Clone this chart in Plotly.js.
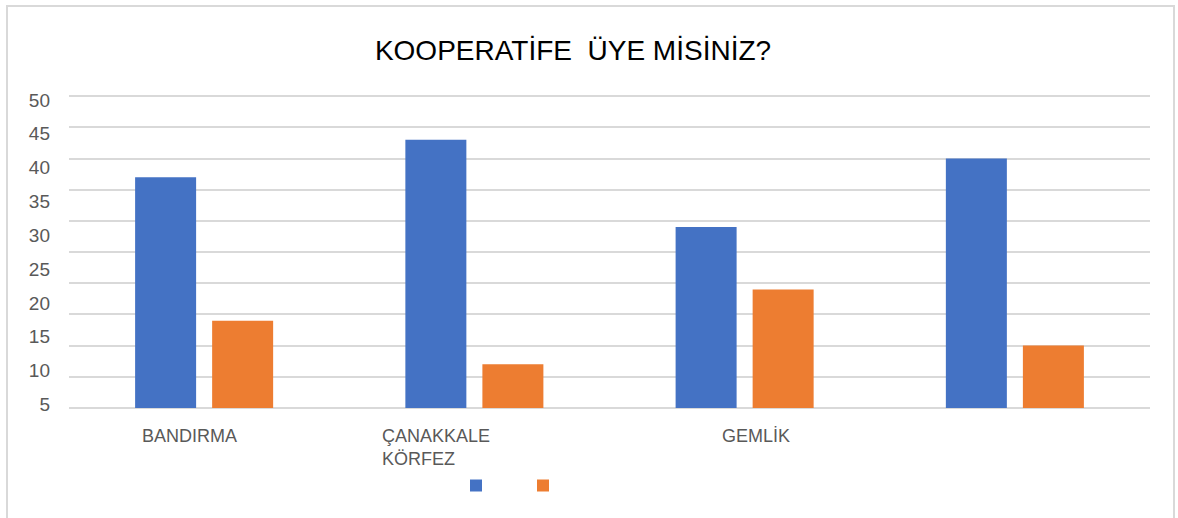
<!DOCTYPE html>
<html>
<head>
<meta charset="utf-8">
<script src="https://cdn.plot.ly/plotly-3.0.1.min.js"></script>
<style>
  html, body { margin: 0; padding: 0; background: #fff; }
  #chart { width: 1178px; height: 518px; }
  #frame { position: absolute; left: 6px; top: 5px; width: 1169px; height: 520px;
           border: 2px solid #d9d9d9; pointer-events: none; box-sizing: border-box; }
</style>
</head>
<body>
<div id="chart"></div>
<div id="frame"></div>
<script>
// Chart data
const chartTitle = 'KOOPERATİFE\u00a0\u00a0ÜYE MİSİNİZ?';
const categories = ['BANDIRMA', 'ÇANAKKALE<br>KÖRFEZ', 'GEMLİK', ''];
const seriesNames = ['', ''];
const blueValues = [37, 43, 29, 40];
const orangeValues = [14, 7, 19, 10];
const yTickLabels = ['5', '10', '15', '20', '25', '30', '35', '40', '45', '50'];

const xPos = categories.map((_, i) => i);
const labelShift = [-64, -94, -25, 0];

const traces = [
  { type: 'bar', x: xPos, y: blueValues, name: seriesNames[0],
    marker: { color: '#4472C4' }, hoverinfo: 'y' },
  { type: 'bar', x: xPos, y: orangeValues, name: seriesNames[1],
    marker: { color: '#ED7D31' }, hoverinfo: 'y' },
  // invisible trace carrying the left tick labels
  { type: 'scatter', x: [xPos[0]], y: [Number(yTickLabels[0])], yaxis: 'y2',
    mode: 'markers', marker: { opacity: 0 }, showlegend: false, hoverinfo: 'skip' }
];

const annotations = categories
  .map((c, i) => ({ c, i }))
  .filter(o => o.c !== '')
  .map(o => ({
    xref: 'x', yref: 'paper', x: xPos[o.i], y: 0,
    xanchor: 'left', yanchor: 'top', align: 'left',
    xshift: labelShift[o.i], yshift: -16,
    text: o.c, showarrow: false,
    font: { family: 'Liberation Sans, Arial, sans-serif', size: 18, color: '#595959' }
  }));

const layout = {
  width: 1178, height: 518,
  margin: { l: 69, r: 28, t: 93, b: 110 },
  paper_bgcolor: '#ffffff', plot_bgcolor: '#ffffff',
  title: {
    text: chartTitle,
    font: { family: 'Liberation Sans, Arial, sans-serif', size: 28, color: '#000000' },
    x: 573 / 1178, xref: 'container', xanchor: 'center',
    y: 1 - 50 / 518, yref: 'container', yanchor: 'middle'
  },
  barmode: 'group', bargap: 0.43, bargroupgap: 0.208,
  xaxis: {
    range: [-0.5, categories.length - 0.5],
    showticklabels: false, showgrid: false, zeroline: false, showline: false,
    fixedrange: true
  },
  yaxis: {
    range: [0, 50.5], dtick: 5, tick0: 0,
    showticklabels: false, showgrid: true, gridcolor: '#d9d9d9', gridwidth: 2,
    zeroline: true, zerolinecolor: '#d9d9d9', zerolinewidth: 2, showline: false,
    fixedrange: true
  },
  yaxis2: {
    overlaying: 'y', side: 'left', anchor: 'x',
    range: [4.45, 51.04], tickmode: 'array',
    tickvals: yTickLabels.map(Number), ticktext: yTickLabels,
    showgrid: false, zeroline: false, showline: false, ticks: '',
    ticklabelstandoff: 18,
    tickfont: { family: 'Liberation Sans, Arial, sans-serif', size: 19, color: '#595959' },
    fixedrange: true
  },
  showlegend: true,
  legend: {
    orientation: 'h', xref: 'container', yref: 'container',
    x: 456 / 1178, xanchor: 'left', y: 1 - 485.5 / 518, yanchor: 'middle',
    entrywidth: 22, entrywidthmode: 'pixels',
    font: { family: 'Liberation Sans, Arial, sans-serif', size: 12, color: '#595959' },
    bgcolor: 'rgba(0,0,0,0)'
  },
  annotations: annotations
};

Plotly.newPlot('chart', traces, layout, { displayModeBar: false, staticPlot: true });
</script>
</body>
</html>
